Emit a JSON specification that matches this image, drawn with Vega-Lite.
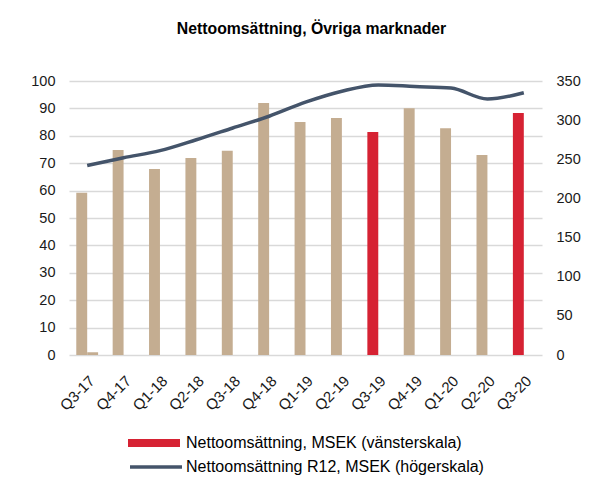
{
  "$schema": "https://vega.github.io/schema/vega-lite/v6.json",
  "width": 473,
  "height": 274,
  "autosize": {"type": "none"},
  "padding": {"left": 69, "top": 81, "right": 53, "bottom": 122},
  "background": "white",
  "title": {
    "text": "Nettoomsättning, Övriga marknader",
    "font": "Liberation Sans",
    "fontSize": 15.8,
    "fontWeight": "bold",
    "color": "#000000",
    "anchor": "middle",
    "offset": 35,
    "dx": 6
  },
  "config": {
    "view": {"stroke": null},
    "font": "Liberation Sans",
    "axis": {
      "labelFont": "Liberation Sans",
      "labelFontSize": 14.5,
      "labelColor": "#1a1a1a",
      "ticks": false,
      "domain": false,
      "title": null
    }
  },
  "data": {
    "values": [
      {"kvartal": "Q3-17", "del": "a", "msek": 59.2, "r12": 242, "typ": "Övriga kvartal"},
      {"kvartal": "Q3-17", "del": "b", "msek": 1.0, "r12": null, "typ": "Övriga kvartal"},
      {"kvartal": "Q4-17", "del": "a", "msek": 74.8, "r12": 252, "typ": "Övriga kvartal"},
      {"kvartal": "Q1-18", "del": "a", "msek": 67.9, "r12": 261, "typ": "Övriga kvartal"},
      {"kvartal": "Q2-18", "del": "a", "msek": 71.9, "r12": 275, "typ": "Övriga kvartal"},
      {"kvartal": "Q3-18", "del": "a", "msek": 74.5, "r12": 290, "typ": "Övriga kvartal"},
      {"kvartal": "Q4-18", "del": "a", "msek": 92.0, "r12": 305, "typ": "Övriga kvartal"},
      {"kvartal": "Q1-19", "del": "a", "msek": 85.0, "r12": 323, "typ": "Övriga kvartal"},
      {"kvartal": "Q2-19", "del": "a", "msek": 86.5, "r12": 337, "typ": "Övriga kvartal"},
      {"kvartal": "Q3-19", "del": "a", "msek": 81.4, "r12": 345, "typ": "Nettoomsättning, MSEK (vänsterskala)"},
      {"kvartal": "Q4-19", "del": "a", "msek": 90.1, "r12": 343, "typ": "Övriga kvartal"},
      {"kvartal": "Q1-20", "del": "a", "msek": 82.8, "r12": 341, "typ": "Övriga kvartal"},
      {"kvartal": "Q2-20", "del": "a", "msek": 73.0, "r12": 327, "typ": "Övriga kvartal"},
      {"kvartal": "Q3-20", "del": "a", "msek": 88.3, "r12": 335, "typ": "Nettoomsättning, MSEK (vänsterskala)"}
    ]
  },
  "encoding": {
    "x": {
      "field": "kvartal",
      "type": "nominal",
      "sort": null,
      "scale": {"paddingInner": 0.4, "paddingOuter": 0.2},
      "axis": {"labelAngle": -45, "labelPadding": 18, "labelDx": -13, "labelFontSize": 15, "grid": false}
    }
  },
  "layer": [
    {
      "mark": {"type": "bar"},
      "encoding": {
        "xOffset": {"field": "del", "type": "nominal", "scale": {"paddingInner": 0, "paddingOuter": 0}},
        "y": {
          "field": "msek",
          "type": "quantitative",
          "scale": {"domain": [0, 100], "nice": false},
          "axis": {
            "orient": "left",
            "values": [0, 10, 20, 30, 40, 50, 60, 70, 80, 90, 100],
            "grid": true,
            "gridColor": "#D9D9D9",
            "gridWidth": 1.5,
            "labelPadding": 14
          }
        },
        "color": {
          "field": "typ",
          "type": "nominal",
          "scale": {
            "domain": ["Nettoomsättning, MSEK (vänsterskala)", "Övriga kvartal"],
            "range": ["#D62233", "#C4AD91"]
          },
          "legend": {
            "values": ["Nettoomsättning, MSEK (vänsterskala)"],
            "title": null,
            "orient": "none",
            "legendX": 59,
            "legendY": 336,
            "symbolType": "M-1,-0.154H1V0.154H-1Z",
            "symbolSize": 2704,
            "symbolStrokeWidth": 0,
            "labelFont": "Liberation Sans",
            "labelFontSize": 16,
            "labelColor": "#000000",
            "labelLimit": 400,
            "labelOffset": 6
          }
        }
      }
    },
    {
      "transform": [{"filter": "datum.del === 'a'"}],
      "mark": {"type": "line", "strokeWidth": 3.5, "interpolate": "monotone"},
      "encoding": {
        "y": {
          "field": "r12",
          "type": "quantitative",
          "scale": {"domain": [0, 350], "nice": false},
          "axis": {
            "orient": "right",
            "values": [0, 50, 100, 150, 200, 250, 300, 350],
            "grid": false,
            "labelPadding": 14
          }
        },
        "stroke": {
          "datum": "Nettoomsättning R12, MSEK (högerskala)",
          "type": "nominal",
          "scale": {"range": ["#44546A"]},
          "legend": {
            "title": null,
            "orient": "none",
            "legendX": 59,
            "legendY": 358,
            "symbolType": "stroke",
            "symbolSize": 2704,
            "symbolStrokeWidth": 3.5,
            "labelFont": "Liberation Sans",
            "labelFontSize": 16,
            "labelColor": "#000000",
            "labelLimit": 400,
            "labelOffset": 2
          }
        }
      }
    }
  ],
  "resolve": {"scale": {"y": "independent", "color": "independent"}}
}
